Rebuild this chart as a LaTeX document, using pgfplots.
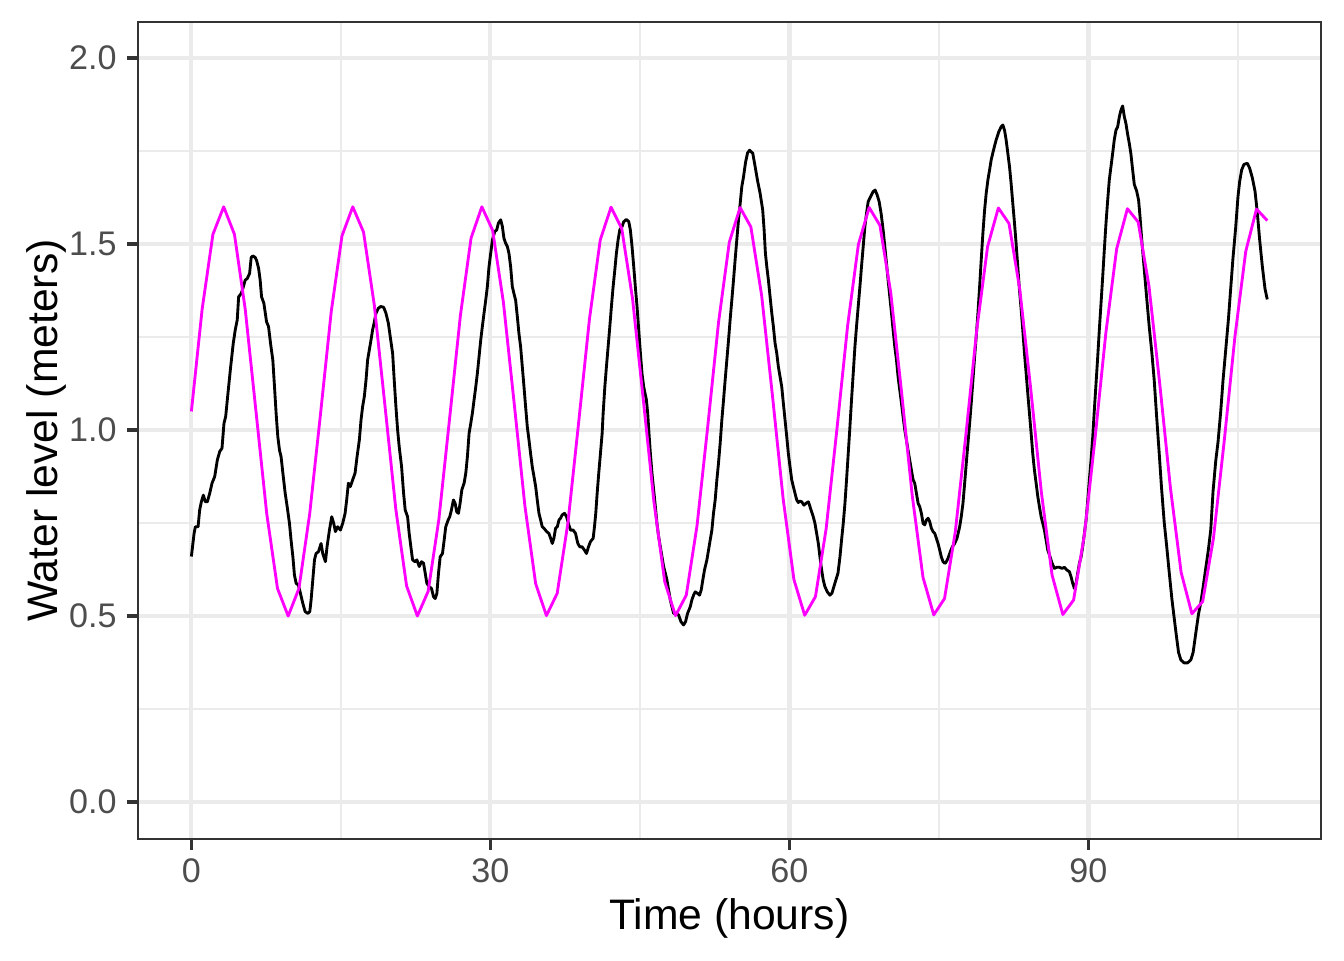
\documentclass[border=0pt]{standalone}
\usepackage{fontspec}
\setmainfont{Liberation Sans}
\usepackage{pgfplots}
\pgfplotsset{compat=1.18}
\definecolor{grid92}{HTML}{EBEBEB}
\definecolor{grey20}{HTML}{333333}
\definecolor{grey30}{HTML}{4D4D4D}
\definecolor{mag}{RGB}{255,0,255}
\begin{document}
\begin{tikzpicture}
\useasboundingbox (-51.6pt,-45.4pt) rectangle (452.4pt,314.65pt);
\begin{axis}[
  at={(0,0)}, anchor=south west,
  scale only axis, width=443.8pt, height=306.4pt,
  xmin=-5.397, xmax=113.337, ymin=-0.0995, ymax=2.0968,
  xtick={0,30,60,90}, ytick={0,0.5,1,1.5,2},
  minor xtick={15,45,75,105}, minor ytick={0.25,0.75,1.25,1.75},
  grid=both,
  major grid style={grid92, line width=1.55pt},
  minor grid style={grid92, line width=0.78pt},
  tick align=outside, tick pos=left,
  major tick length=4pt, minor tick length=0pt,
  every tick/.style={grey20, line width=1.4pt},
  axis line style={grey20, line width=0.8pt},
  /pgf/number format/assume math mode=true,
  tick label style={font=\fontsize{12.8}{15}\selectfont, text=grey30},
  yticklabel style={/pgf/number format/fixed, /pgf/number format/fixed zerofill, /pgf/number format/precision=1, anchor=east, inner sep=0pt},
  xticklabel style={anchor=north, inner sep=0pt},
  xticklabel shift=3.2pt, yticklabel shift=3.7pt,
  xlabel={Time (hours)}, ylabel={Water level (meters)},
  label style={font=\fontsize{16}{19}\selectfont, text=black},
  xlabel style={at={(axis description cs:0.5,-0.1103)}, anchor=base, inner sep=0pt},
  ylabel style={at={(axis description cs:-0.06805,0.5)}, anchor=base, inner sep=0pt},
]
\addplot[black, line width=1.07pt, line join=round] coordinates {
(0.00,0.660)(0.27,0.722)(0.40,0.740)(0.67,0.740)(0.83,0.785)(1.00,0.807)(1.20,0.825)(1.40,0.807)(1.60,0.807)(1.84,0.830)
(2.07,0.857)(2.34,0.875)(2.60,0.919)(2.84,0.942)(3.07,0.951)(3.27,1.018)(3.44,1.036)(3.67,1.099)(3.94,1.170)(4.20,1.233)
(4.40,1.269)(4.60,1.296)(4.74,1.358)(5.00,1.367)(5.17,1.381)(5.40,1.403)(5.60,1.407)(5.84,1.421)(6.00,1.464)(6.17,1.468)
(6.40,1.464)(6.55,1.455)(6.74,1.435)(6.90,1.403)(7.04,1.358)(7.27,1.341)(7.54,1.291)(7.74,1.278)(7.94,1.233)(8.17,1.188)
(8.34,1.116)(8.50,1.045)(8.67,0.982)(8.84,0.946)(9.00,0.928)(9.18,0.884)(9.41,0.830)(9.61,0.794)(9.84,0.749)(10.00,0.704)
(10.18,0.660)(10.34,0.610)(10.51,0.588)(10.74,0.583)(10.94,0.561)(11.18,0.534)(11.41,0.512)(11.68,0.507)(11.88,0.512)(12.01,0.543)
(12.18,0.597)(12.35,0.651)(12.51,0.668)(12.75,0.673)(13.01,0.695)(13.18,0.668)(13.45,0.646)(13.61,0.686)(13.85,0.731)(14.08,0.767)
(14.28,0.749)(14.45,0.727)(14.68,0.740)(14.95,0.731)(15.18,0.749)(15.42,0.776)(15.58,0.812)(15.75,0.857)(15.95,0.848)(16.18,0.866)
(16.42,0.884)(16.62,0.928)(16.85,0.973)(17.02,1.027)(17.18,1.063)(17.35,1.090)(17.52,1.134)(17.68,1.188)(17.85,1.215)(18.02,1.242)
(18.18,1.269)(18.35,1.290)(18.52,1.314)(18.75,1.327)(19.00,1.332)(19.29,1.330)(19.52,1.314)(19.76,1.287)(19.95,1.251)(20.19,1.206)
(20.35,1.134)(20.52,1.063)(20.69,1.000)(20.85,0.955)(21.09,0.901)(21.29,0.830)(21.45,0.785)(21.69,0.767)(21.85,0.722)(22.02,0.686)
(22.19,0.651)(22.42,0.646)(22.62,0.651)(22.86,0.633)(23.09,0.646)(23.29,0.642)(23.46,0.615)(23.62,0.588)(23.86,0.579)(24.09,0.574)
(24.29,0.552)(24.46,0.547)(24.63,0.561)(24.79,0.615)(24.96,0.659)(25.19,0.668)(25.36,0.704)(25.52,0.740)(25.76,0.758)(25.92,0.767)
(26.09,0.785)(26.29,0.812)(26.46,0.803)(26.62,0.780)(26.79,0.776)(26.96,0.803)(27.13,0.839)(27.36,0.857)(27.53,0.884)(27.69,0.928)
(27.86,0.991)(28.03,1.018)(28.19,1.045)(28.36,1.081)(28.53,1.116)(28.69,1.152)(28.86,1.197)(29.03,1.242)(29.19,1.278)(29.36,1.314)
(29.53,1.349)(29.69,1.385)(29.86,1.439)(30.03,1.475)(30.20,1.511)(30.43,1.533)(30.63,1.538)(30.80,1.556)(31.03,1.565)(31.20,1.547)
(31.36,1.515)(31.53,1.502)(31.70,1.493)(31.86,1.475)(32.03,1.439)(32.20,1.385)(32.36,1.367)(32.53,1.349)(32.70,1.305)(32.86,1.260)
(33.03,1.224)(33.20,1.170)(33.37,1.116)(33.53,1.063)(33.70,1.009)(33.87,0.973)(34.03,0.937)(34.20,0.901)(34.37,0.875)(34.54,0.848)
(34.70,0.812)(34.87,0.776)(35.04,0.758)(35.20,0.740)(35.37,0.736)(35.64,0.727)(35.87,0.722)(36.04,0.709)(36.21,0.695)(36.37,0.709)
(36.54,0.736)(36.71,0.740)(36.88,0.758)(37.04,0.763)(37.20,0.772)(37.44,0.776)(37.64,0.767)(37.87,0.745)(38.04,0.731)(38.30,0.731)
(38.54,0.722)(38.77,0.695)(38.97,0.686)(39.20,0.686)(39.44,0.677)(39.64,0.668)(39.84,0.686)(40.04,0.700)(40.31,0.709)(40.44,0.740)
(40.57,0.776)(40.71,0.830)(40.87,0.884)(41.04,0.937)(41.21,0.991)(41.31,1.045)(41.48,1.116)(41.64,1.170)(41.81,1.224)(41.98,1.278)
(42.14,1.332)(42.31,1.385)(42.48,1.430)(42.64,1.475)(42.81,1.511)(42.98,1.538)(43.21,1.547)(43.38,1.560)(43.64,1.566)(43.88,1.560)
(44.04,1.538)(44.21,1.493)(44.38,1.439)(44.54,1.385)(44.71,1.332)(44.88,1.269)(45.05,1.206)(45.21,1.152)(45.38,1.116)(45.65,1.081)
(45.78,1.045)(45.91,0.991)(46.05,0.937)(46.21,0.884)(46.38,0.839)(46.55,0.794)(46.71,0.749)(46.88,0.713)(47.05,0.686)(47.21,0.660)
(47.38,0.633)(47.55,0.615)(47.71,0.597)(47.88,0.570)(48.05,0.543)(48.21,0.525)(48.38,0.507)(48.65,0.507)(48.88,0.503)(49.11,0.485)
(49.38,0.476)(49.58,0.485)(49.78,0.507)(50.05,0.525)(50.21,0.543)(50.38,0.556)(50.55,0.565)(50.78,0.561)(50.98,0.556)(51.15,0.570)
(51.31,0.597)(51.48,0.624)(51.72,0.651)(51.88,0.677)(52.05,0.704)(52.22,0.731)(52.38,0.776)(52.55,0.812)(52.72,0.866)(52.88,0.910)
(53.05,0.964)(53.22,1.027)(53.39,1.081)(53.55,1.134)(53.72,1.188)(53.89,1.242)(54.05,1.296)(54.22,1.349)(54.39,1.403)(54.55,1.457)
(54.72,1.511)(54.89,1.565)(55.06,1.609)(55.22,1.654)(55.39,1.680)(55.60,1.720)(55.80,1.745)(56.00,1.752)(56.32,1.744)(56.56,1.708)
(56.79,1.672)(57.06,1.636)(57.32,1.591)(57.46,1.538)(57.59,1.475)(57.73,1.439)(57.89,1.403)(58.06,1.358)(58.23,1.314)(58.39,1.278)
(58.56,1.233)(58.73,1.206)(58.89,1.170)(59.06,1.143)(59.23,1.116)(59.39,1.072)(59.56,1.027)(59.73,0.982)(59.89,0.937)(60.06,0.901)
(60.23,0.866)(60.39,0.848)(60.56,0.830)(60.73,0.812)(60.89,0.805)(61.06,0.809)(61.23,0.807)(61.46,0.798)(61.66,0.803)(61.90,0.807)
(62.06,0.794)(62.23,0.780)(62.39,0.767)(62.56,0.749)(62.73,0.722)(62.90,0.695)(63.06,0.659)(63.23,0.624)(63.39,0.597)(63.56,0.579)
(63.80,0.565)(64.06,0.556)(64.26,0.561)(64.46,0.579)(64.66,0.597)(64.87,0.615)(65.07,0.659)(65.23,0.704)(65.40,0.749)(65.57,0.803)
(65.73,0.866)(65.90,0.937)(66.07,1.009)(66.23,1.081)(66.40,1.152)(66.57,1.224)(66.73,1.278)(66.90,1.332)(67.07,1.385)(67.23,1.439)
(67.40,1.493)(67.57,1.547)(67.73,1.582)(67.90,1.614)(68.14,1.627)(68.40,1.641)(68.60,1.645)(68.80,1.632)(69.00,1.614)(69.20,1.582)
(69.40,1.538)(69.57,1.493)(69.74,1.448)(69.90,1.403)(70.07,1.358)(70.24,1.314)(70.40,1.269)(70.57,1.224)(70.74,1.188)(70.90,1.143)
(71.07,1.107)(71.24,1.072)(71.40,1.036)(71.57,1.000)(71.74,0.973)(71.90,0.946)(72.07,0.919)(72.24,0.892)(72.41,0.866)(72.57,0.857)
(72.74,0.830)(72.91,0.803)(73.07,0.794)(73.24,0.776)(73.41,0.749)(73.57,0.745)(73.74,0.758)(73.91,0.763)(74.07,0.754)(74.24,0.736)
(74.41,0.727)(74.58,0.722)(74.74,0.709)(74.91,0.695)(75.08,0.677)(75.24,0.659)(75.41,0.646)(75.58,0.642)(75.68,0.643)(75.91,0.655)
(76.14,0.673)(76.34,0.686)(76.58,0.695)(76.81,0.709)(77.08,0.740)(77.24,0.767)(77.41,0.803)(77.58,0.857)(77.74,0.910)(77.91,0.964)
(78.08,1.018)(78.24,1.072)(78.41,1.134)(78.58,1.197)(78.74,1.251)(78.91,1.314)(79.08,1.385)(79.24,1.457)(79.41,1.529)(79.58,1.591)
(79.74,1.636)(79.91,1.672)(80.08,1.699)(80.24,1.726)(80.48,1.753)(80.74,1.780)(81.01,1.802)(81.24,1.815)(81.41,1.820)(81.58,1.806)
(81.74,1.780)(81.91,1.744)(82.08,1.708)(82.24,1.663)(82.41,1.609)(82.58,1.556)(82.74,1.502)(82.91,1.439)(83.08,1.376)(83.25,1.323)
(83.41,1.269)(83.58,1.206)(83.75,1.152)(83.91,1.099)(84.08,1.045)(84.25,0.991)(84.41,0.937)(84.58,0.892)(84.75,0.857)(84.92,0.821)
(85.08,0.794)(85.25,0.767)(85.42,0.749)(85.58,0.731)(85.75,0.704)(85.92,0.677)(86.15,0.659)(86.35,0.642)(86.58,0.628)(86.82,0.631)
(87.08,0.631)(87.35,0.628)(87.59,0.631)(87.82,0.624)(88.09,0.619)(88.25,0.606)(88.42,0.588)(88.59,0.574)(88.76,0.588)(88.92,0.615)
(89.09,0.642)(89.26,0.659)(89.42,0.686)(89.59,0.722)(89.76,0.758)(89.93,0.812)(90.09,0.866)(90.26,0.919)(90.43,0.982)(90.59,1.054)
(90.76,1.125)(90.93,1.197)(91.09,1.269)(91.26,1.340)(91.43,1.412)(91.59,1.484)(91.76,1.556)(91.93,1.618)(92.09,1.672)(92.26,1.708)
(92.43,1.744)(92.59,1.780)(92.76,1.806)(92.93,1.815)(93.10,1.842)(93.26,1.860)(93.43,1.871)(93.60,1.842)(93.76,1.824)(93.93,1.795)
(94.10,1.770)(94.26,1.742)(94.43,1.700)(94.60,1.660)(94.83,1.643)(95.03,1.618)(95.17,1.575)(95.37,1.503)(95.60,1.431)(95.83,1.359)
(96.10,1.277)(96.37,1.205)(96.60,1.133)(96.83,1.040)(97.10,0.937)(97.33,0.845)(97.60,0.752)(97.84,0.690)(98.10,0.618)(98.37,0.546)
(98.60,0.495)(98.84,0.443)(99.04,0.402)(99.27,0.382)(99.60,0.374)(99.94,0.374)(100.27,0.382)(100.50,0.402)(100.77,0.454)(101.04,0.505)
(101.27,0.536)(101.50,0.577)(101.77,0.629)(102.04,0.680)(102.27,0.732)(102.50,0.835)(102.77,0.917)(103.00,0.968)(103.27,1.050)(103.50,1.133)
(103.77,1.215)(104.04,1.297)(104.27,1.380)(104.50,1.462)(104.77,1.544)(105.00,1.627)(105.17,1.668)(105.37,1.699)(105.60,1.714)(105.94,1.717)
(106.17,1.704)(106.44,1.678)(106.71,1.642)(106.94,1.585)(107.17,1.513)(107.44,1.441)(107.71,1.380)(107.94,1.351)
};
\addplot[mag, line width=1.07pt, line join=round] coordinates {
(0,1.050)(1.08,1.325)(2.16,1.526)(3.24,1.600)(4.32,1.526)(5.40,1.325)(6.48,1.050)(7.56,0.775)(8.64,0.574)(9.71,0.500)
(10.79,0.574)(11.87,0.775)(12.95,1.042)(14.03,1.318)(15.11,1.522)(16.19,1.600)(17.27,1.532)(18.35,1.336)(19.43,1.063)(20.51,0.787)
(21.59,0.581)(22.67,0.500)(23.75,0.566)(24.83,0.760)(25.91,1.032)(26.99,1.308)(28.06,1.516)(29.14,1.600)(30.22,1.537)(31.30,1.344)
(32.38,1.073)(33.46,0.796)(34.54,0.587)(35.62,0.501)(36.70,0.561)(37.78,0.751)(38.86,1.022)(39.94,1.299)(41.02,1.511)(42.10,1.599)
(43.18,1.541)(44.26,1.353)(45.33,1.084)(46.41,0.806)(47.49,0.592)(48.57,0.501)(49.65,0.556)(50.73,0.743)(51.81,1.011)(52.89,1.290)
(53.97,1.505)(55.05,1.598)(56.13,1.546)(57.21,1.362)(58.29,1.094)(59.37,0.815)(60.45,0.598)(61.53,0.502)(62.61,0.552)(63.68,0.734)
(64.76,1.001)(65.84,1.281)(66.92,1.499)(68.00,1.598)(69.08,1.550)(70.16,1.370)(71.24,1.104)(72.32,0.824)(73.40,0.604)(74.48,0.503)
(75.56,0.547)(76.64,0.726)(77.72,0.991)(78.80,1.271)(79.88,1.493)(80.96,1.597)(82.03,1.555)(83.11,1.378)(84.19,1.115)(85.27,0.834)
(86.35,0.610)(87.43,0.504)(88.51,0.543)(89.59,0.718)(90.67,0.980)(91.75,1.262)(92.83,1.487)(93.91,1.595)(94.99,1.559)(96.07,1.387)
(97.15,1.125)(98.23,0.843)(99.30,0.617)(100.38,0.506)(101.46,0.539)(102.54,0.709)(103.62,0.970)(104.70,1.252)(105.78,1.480)(106.86,1.594)
(107.94,1.563)
};
\end{axis}
\end{tikzpicture}
\end{document}
